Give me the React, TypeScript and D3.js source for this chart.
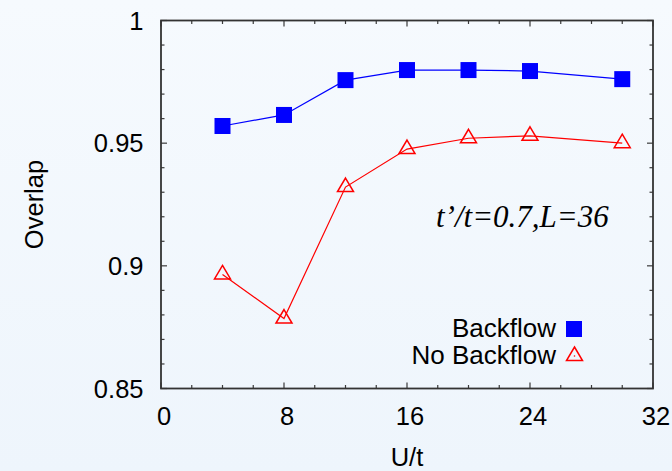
import React from "react";
import * as d3 from "d3";

const uValues = [4, 8, 12, 16, 20, 24, 30];
const backflow = [0.957, 0.9615, 0.9757, 0.9798, 0.9798, 0.9794, 0.9761];
const noBackflow = [0.8965, 0.8785, 0.9321, 0.9476, 0.952, 0.953, 0.95];
const xTicks = [0, 8, 16, 24, 32];
const yTicks = [0.85, 0.9, 0.95, 1];
const yTickLabels = ["0.85", "0.9", "0.95", "1"];
const seriesNames = ["Backflow", "No Backflow"];
const annotation = "t\u2019/t=0.7,L=36";

const W = 672;
const H = 471;
const left = 161, right = 653, top = 20.5, bottom = 388.5;

export default function App() {
  const x = d3.scaleLinear().domain([0, 32]).range([left, right]);
  const y = d3.scaleLinear().domain([0.85, 1]).range([bottom, top]);
  const line = d3
    .line<[number, number]>()
    .x((d) => x(d[0]))
    .y((d) => y(d[1]));
  const blueData: [number, number][] = uValues.map((u, i) => [u, backflow[i]]);
  const redData: [number, number][] = uValues.map((u, i) => [u, noBackflow[i]]);

  const xMinor = d3.range(0, 32.001, 2);
  const yMinor = d3.range(0, 16).map((i) => 0.85 + i * 0.01);
  const isMajorX = (v: number) => Math.abs(v / 8 - Math.round(v / 8)) < 1e-6;
  const isMajorY = (v: number) => Math.abs(v / 0.05 - Math.round(v / 0.05)) < 1e-6;

  const tri = (cx: number, cy: number) =>
    `M${cx},${cy - 9}L${cx + 8},${cy + 4.5}L${cx - 8},${cy + 4.5}Z`;

  const font = "'Liberation Sans', Arial, Helvetica, sans-serif";
  const tickColor = "#3a3a3a";

  return (
    <div style={{ position: "fixed", left: 0, top: 0, width: W, height: H }}>
      <svg width={W} height={H} style={{ display: "block" }}>
        <defs>
          <linearGradient id="bg" x1="0" y1="0" x2="0" y2="1">
            <stop offset="0" stopColor="#f6fafe" />
            <stop offset="1" stopColor="#eef5fc" />
          </linearGradient>
        </defs>
        <rect x={0} y={0} width={W} height={H} fill="url(#bg)" />

        {/* ticks */}
        {xMinor.map((v) => {
          const len = isMajorX(v) ? 6 : 3.5;
          return (
            <g key={"xt" + v} stroke={tickColor} strokeWidth={1.2}>
              <line x1={x(v)} x2={x(v)} y1={bottom} y2={bottom - len} />
              <line x1={x(v)} x2={x(v)} y1={top} y2={top + len} />
            </g>
          );
        })}
        {yMinor.map((v) => {
          const len = isMajorY(v) ? 6 : 3.5;
          return (
            <g key={"yt" + v.toFixed(2)} stroke={tickColor} strokeWidth={1.2}>
              <line x1={left} x2={left + len} y1={y(v)} y2={y(v)} />
              <line x1={right} x2={right - len} y1={y(v)} y2={y(v)} />
            </g>
          );
        })}

        {/* tick labels */}
        {xTicks.map((v) => (
          <text
            key={"xl" + v}
            x={x(v) + 3}
            y={425}
            textAnchor="middle"
            fontFamily={font}
            fontSize={25.5}
            fill="#000"
          >
            {v}
          </text>
        ))}
        {yTicks.map((v, i) => (
          <text
            key={"yl" + v}
            x={143.5}
            y={y(v) + 9}
            textAnchor="end"
            fontFamily={font}
            fontSize={25.5}
            fill="#000"
          >
            {yTickLabels[i]}
          </text>
        ))}

        {/* axis titles */}
        <text
          x={(left + right) / 2}
          y={466}
          textAnchor="middle"
          fontFamily={font}
          fontSize={25.5}
          fill="#000"
        >
          U/t
        </text>
        <text
          transform={`translate(43,${(top + bottom) / 2}) rotate(-90)`}
          textAnchor="middle"
          fontFamily={font}
          fontSize={25.5}
          fill="#000"
        >
          Overlap
        </text>

        {/* series lines */}
        <path d={line(blueData) || ""} fill="none" stroke="#0000ff" strokeWidth={1.2} />
        <path d={line(redData) || ""} fill="none" stroke="#ff0000" strokeWidth={1.2} />

        {/* markers */}
        {blueData.map((d, i) => (
          <rect
            key={"b" + i}
            x={x(d[0]) - 8}
            y={y(d[1]) - 8}
            width={16}
            height={16}
            fill="#0000ff"
          />
        ))}
        {redData.map((d, i) => (
          <path
            key={"r" + i}
            d={tri(x(d[0]), y(d[1]))}
            fill="none"
            stroke="#ff0000"
            strokeWidth={1.5}
          />
        ))}

        {/* annotation */}
        <text
          x={436}
          y={227}
          fontFamily="'Liberation Serif', 'Times New Roman', serif"
          fontStyle="italic"
          fontSize={31}
          fill="#000"
        >
          {annotation}
        </text>

        {/* legend */}
        <text x={556} y={337} textAnchor="end" fontFamily={font} fontSize={26} fill="#000">
          {seriesNames[0]}
        </text>
        <rect x={566} y={321} width={16} height={16} fill="#0000ff" />
        <text x={556} y={364} textAnchor="end" fontFamily={font} fontSize={26} fill="#000">
          {seriesNames[1]}
        </text>
        <path d={tri(574.5, 356)} fill="none" stroke="#ff0000" strokeWidth={1.5} />
        <circle cx={574.5} cy={356} r={0.8} fill="#ff0000" />

        {/* frame */}
        <rect
          x={left}
          y={top}
          width={right - left}
          height={bottom - top}
          fill="none"
          stroke="#333"
          strokeWidth={1.8}
        />
      </svg>
    </div>
  );
}
